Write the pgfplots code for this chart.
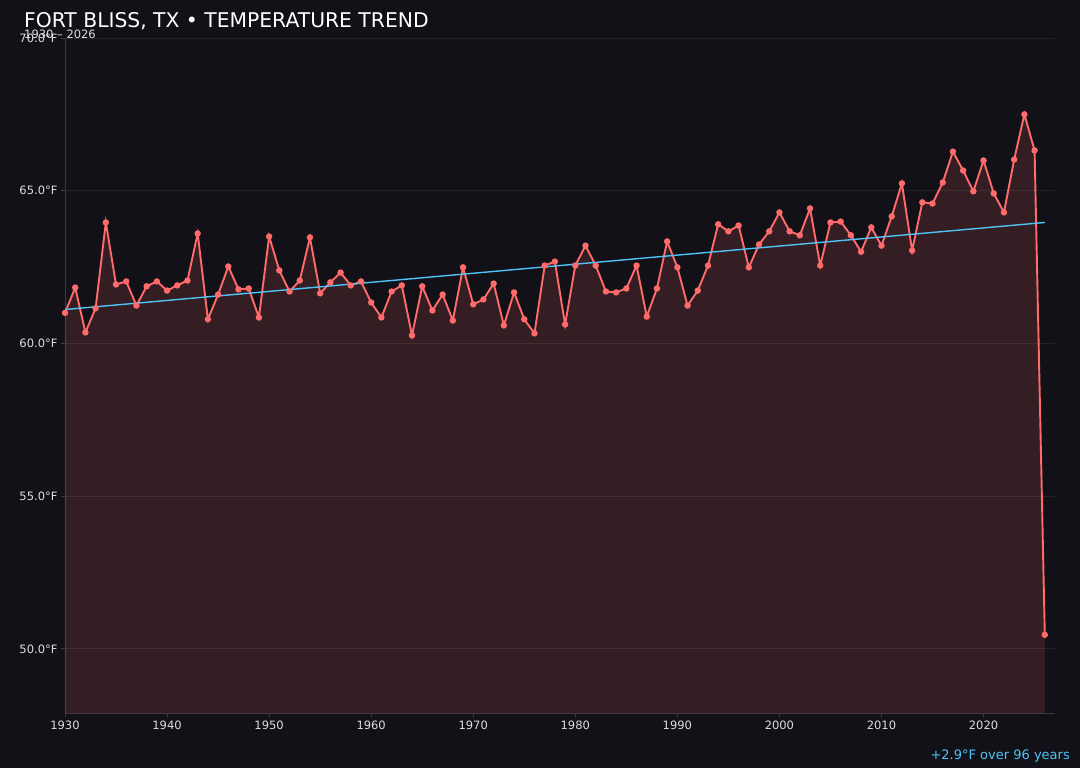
\documentclass[border=0pt]{standalone}
\usepackage{fontspec}
\setmainfont{DejaVu Sans}
\usepackage{pgfplots}
\pgfplotsset{compat=1.18}

\definecolor{bg}{RGB}{18,17,23}
\definecolor{linecol}{RGB}{255,107,107}
\definecolor{trendcol}{RGB}{79,195,247}
\definecolor{gridcol}{RGB}{36,35,42}
\definecolor{spinecol}{RGB}{58,58,64}
\definecolor{labelcol}{RGB}{222,222,225}

\begin{document}
\begin{tikzpicture}
  \fill[bg] (0,0) rectangle (1080pt,768pt);
  \useasboundingbox (0,0) rectangle (1080pt,768pt);

\begin{axis}[
  at={(65pt,55pt)}, anchor=south west,
  width=990pt, height=675pt, scale only axis,
  xmin=1930, xmax=2027,
  ymin=47.9, ymax=70,
  axis x line*=bottom, axis y line*=left,
  axis line style={spinecol, line width=0.8pt},
  tick style={spinecol, line width=0.8pt},
  tick align=outside,
  major tick length=4pt,
  xtick={1930,1940,1950,1960,1970,1980,1990,2000,2010,2020},
  xticklabels={1930,1940,1950,1960,1970,1980,1990,2000,2010,2020},
  ytick={50,55,60,65,70},
  yticklabels={50.0°F,55.0°F,60.0°F,65.0°F,70.0°F},
  ticklabel style={font=\fontsize{11.5}{13}\selectfont, text=labelcol},
  ymajorgrids,
  grid style={gridcol, line width=0.8pt},
  clip=true,
]

% yearly mean temperature, deg F
\addplot[draw=none, fill=linecol, fill opacity=0.15] coordinates {
  (1930,61.0) (1931,61.83) (1932,60.36) (1933,61.15) (1934,63.96)
  (1935,61.93) (1936,62.03) (1937,61.24) (1938,61.87) (1939,62.03)
  (1940,61.73) (1941,61.9) (1942,62.06) (1943,63.6) (1944,60.79)
  (1945,61.6) (1946,62.52) (1947,61.77) (1948,61.8) (1949,60.85)
  (1950,63.5) (1951,62.39) (1952,61.7) (1953,62.06) (1954,63.47)
  (1955,61.64) (1956,62.0) (1957,62.32) (1958,61.9) (1959,62.03)
  (1960,61.34) (1961,60.85) (1962,61.7) (1963,61.9) (1964,60.26)
  (1965,61.87) (1966,61.08) (1967,61.6) (1968,60.75) (1969,62.49)
  (1970,61.28) (1971,61.44) (1972,61.96) (1973,60.59) (1974,61.67)
  (1975,60.79) (1976,60.33) (1977,62.55) (1978,62.68) (1979,60.62)
  (1980,62.55) (1981,63.2) (1982,62.55) (1983,61.7) (1984,61.67)
  (1985,61.8) (1986,62.55) (1987,60.88) (1988,61.8) (1989,63.34)
  (1990,62.49) (1991,61.24) (1992,61.73) (1993,62.55) (1994,63.9)
  (1995,63.67) (1996,63.86) (1997,62.49) (1998,63.24) (1999,63.67)
  (2000,64.29) (2001,63.67) (2002,63.54) (2003,64.42) (2004,62.55)
  (2005,63.96) (2006,63.99) (2007,63.54) (2008,63.0) (2009,63.8)
  (2010,63.2) (2011,64.16) (2012,65.24) (2013,63.04) (2014,64.62)
  (2015,64.58) (2016,65.27) (2017,66.28) (2018,65.66) (2019,64.98)
  (2020,65.99) (2021,64.91) (2022,64.29) (2023,66.02) (2024,67.5)
  (2025,66.32) (2026,50.46)
} \closedcycle;

\addplot[linecol, line width=1.9pt, mark=*, mark size=2.2pt,
  mark options={solid, fill=linecol, draw=linecol}] coordinates {
  (1930,61.0) (1931,61.83) (1932,60.36) (1933,61.15) (1934,63.96)
  (1935,61.93) (1936,62.03) (1937,61.24) (1938,61.87) (1939,62.03)
  (1940,61.73) (1941,61.9) (1942,62.06) (1943,63.6) (1944,60.79)
  (1945,61.6) (1946,62.52) (1947,61.77) (1948,61.8) (1949,60.85)
  (1950,63.5) (1951,62.39) (1952,61.7) (1953,62.06) (1954,63.47)
  (1955,61.64) (1956,62.0) (1957,62.32) (1958,61.9) (1959,62.03)
  (1960,61.34) (1961,60.85) (1962,61.7) (1963,61.9) (1964,60.26)
  (1965,61.87) (1966,61.08) (1967,61.6) (1968,60.75) (1969,62.49)
  (1970,61.28) (1971,61.44) (1972,61.96) (1973,60.59) (1974,61.67)
  (1975,60.79) (1976,60.33) (1977,62.55) (1978,62.68) (1979,60.62)
  (1980,62.55) (1981,63.2) (1982,62.55) (1983,61.7) (1984,61.67)
  (1985,61.8) (1986,62.55) (1987,60.88) (1988,61.8) (1989,63.34)
  (1990,62.49) (1991,61.24) (1992,61.73) (1993,62.55) (1994,63.9)
  (1995,63.67) (1996,63.86) (1997,62.49) (1998,63.24) (1999,63.67)
  (2000,64.29) (2001,63.67) (2002,63.54) (2003,64.42) (2004,62.55)
  (2005,63.96) (2006,63.99) (2007,63.54) (2008,63.0) (2009,63.8)
  (2010,63.2) (2011,64.16) (2012,65.24) (2013,63.04) (2014,64.62)
  (2015,64.58) (2016,65.27) (2017,66.28) (2018,65.66) (2019,64.98)
  (2020,65.99) (2021,64.91) (2022,64.29) (2023,66.02) (2024,67.5)
  (2025,66.32) (2026,50.46)
};

% linear trend
\addplot[trendcol, line width=1.4pt] coordinates {(1930,61.11) (2026,63.96)};

\end{axis}

  \node[anchor=base west, inner sep=0pt, text=white,
    font=\fontsize{20.3}{24}\selectfont] at (24pt,740pt)
    {FORT BLISS, TX • TEMPERATURE TREND};
  \node[anchor=base west, inner sep=0pt, text=labelcol,
    font=\fontsize{11.5}{13}\selectfont] at (24pt,729pt) {1930 – 2026};
  \node[anchor=base east, inner sep=0pt, text=trendcol,
    font=\fontsize{13}{15}\selectfont] at (1070pt,8pt) {+2.9°F over 96 years};
\end{tikzpicture}
\end{document}
